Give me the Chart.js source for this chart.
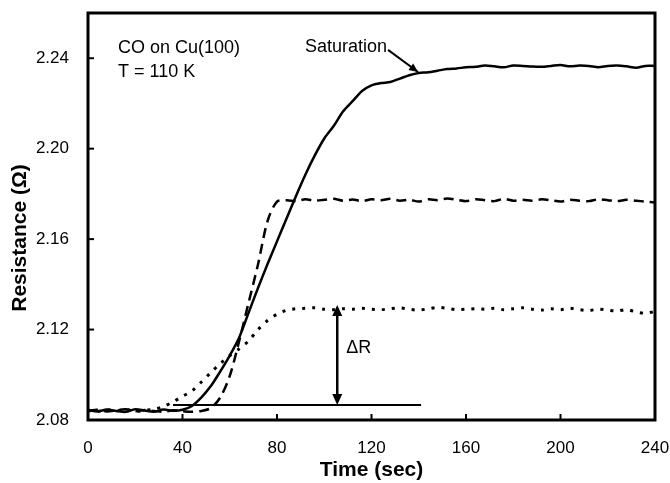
<!DOCTYPE html>
<html>
<head>
<meta charset="utf-8">
<script src="https://cdn.jsdelivr.net/npm/chart.js@4.4.1/dist/chart.umd.min.js"></script>
<style>
    body { margin: 0; background: #fff; }
    #wrap { width: 670px; height: 483px; }
</style>
</head>
<body>
<div id="wrap"><canvas id="resChart"></canvas></div>
<script>
// Time axis (sec)
const times = [0, 4, 8, 12, 16, 20, 24, 28, 32, 36, 40,
    44, 48, 52, 56, 60, 64, 68, 72, 76, 80,
    84, 88, 92, 96, 100, 104, 108, 112, 116, 120,
    124, 128, 132, 136, 140, 144, 148, 152, 156, 160,
    164, 168, 172, 176, 180, 184, 188, 192, 196, 200,
    204, 208, 212, 216, 220, 224, 228, 232, 236, 240];

// Saturation exposure (solid)
const saturation = [2.0845, 2.0838, 2.0846, 2.0840, 2.0836, 2.0848, 2.0842, 2.0837, 2.0846, 2.0841, 2.0845,
    2.0862, 2.0900, 2.0950, 2.1015, 2.1085, 2.1165, 2.1275, 2.1385, 2.1490, 2.1590,
    2.1690, 2.1790, 2.1885, 2.1970, 2.2045, 2.2100, 2.2165, 2.2210, 2.2255, 2.2280,
    2.2290, 2.2295, 2.2310, 2.2325, 2.2335, 2.2338, 2.2345, 2.2352, 2.2355, 2.2360,
    2.2362, 2.2368, 2.2364, 2.2360, 2.2368, 2.2366, 2.2363, 2.2362, 2.2366, 2.2370,
    2.2364, 2.2368, 2.2366, 2.2360, 2.2366, 2.2368, 2.2364, 2.2358, 2.2366, 2.2366];

// Intermediate exposure (dashed)
const partialHigh = [2.0840, 2.0845, 2.0838, 2.0843, 2.0847, 2.0839, 2.0844, 2.0840, 2.0836, 2.0843, 2.0839,
    2.0836, 2.0840, 2.0853, 2.0900, 2.0995, 2.1150, 2.1320, 2.1490, 2.1680, 2.1766,
    2.1772, 2.1768, 2.1776, 2.1770, 2.1774, 2.1778, 2.1770, 2.1775, 2.1768, 2.1776,
    2.1772, 2.1778, 2.1770, 2.1774, 2.1766, 2.1776, 2.1772, 2.1780, 2.1774, 2.1768,
    2.1776, 2.1772, 2.1768, 2.1778, 2.1770, 2.1774, 2.1770, 2.1776, 2.1772, 2.1766,
    2.1774, 2.1770, 2.1768, 2.1776, 2.1772, 2.1768, 2.1774, 2.1770, 2.1766, 2.1762];

// Low exposure (dotted)
const partialLow = [2.0842, 2.0838, 2.0845, 2.0840, 2.0846, 2.0838, 2.0843, 2.0848, 2.0860, 2.0880, 2.0905,
    2.0928, 2.0968, 2.1010, 2.1050, 2.1085, 2.1115, 2.1150, 2.1200, 2.1240, 2.1268,
    2.1285, 2.1292, 2.1294, 2.1296, 2.1290, 2.1288, 2.1292, 2.1290, 2.1294, 2.1290,
    2.1288, 2.1292, 2.1296, 2.1290, 2.1286, 2.1292, 2.1298, 2.1294, 2.1288, 2.1290,
    2.1292, 2.1290, 2.1294, 2.1288, 2.1292, 2.1296, 2.1290, 2.1286, 2.1292, 2.1288,
    2.1294, 2.1288, 2.1284, 2.1290, 2.1286, 2.1282, 2.1288, 2.1278, 2.1272, 2.1280];

// Baseline reference line and delta R marker
const baseTimes = [36, 141];
const baseValue = 2.0866;
const deltaTime = 105.5;
const deltaTop = 2.1309;

const xTicks = [0, 40, 80, 120, 160, 200, 240];
const yTicks = [2.08, 2.12, 2.16, 2.20, 2.24];

const FONT = '"Liberation Sans", Arial, sans-serif';

function toPoints(xs, ys) {
    return xs.map((x, i) => ({ x: x, y: ys[i] }));
}

function arrowHead(ctx, x1, y1, x2, y2, len, half) {
    const a = Math.atan2(y2 - y1, x2 - x1);
    ctx.beginPath();
    ctx.moveTo(x2, y2);
    ctx.lineTo(x2 - len * Math.cos(a) + half * Math.sin(a), y2 - len * Math.sin(a) - half * Math.cos(a));
    ctx.lineTo(x2 - len * Math.cos(a) - half * Math.sin(a), y2 - len * Math.sin(a) + half * Math.cos(a));
    ctx.closePath();
    ctx.fill();
}

function noScalePadding(scale) {
    scale.paddingTop = 0;
    scale.paddingBottom = 0;
    scale.paddingLeft = 0;
    scale.paddingRight = 0;
}

// Frame, inward ticks and annotations
const decorPlugin = {
    id: 'decor',
    afterDatasetsDraw(chart) {
        const ctx = chart.ctx;
        const xs = chart.scales.x;
        const ys = chart.scales.y;
        const left = xs.getPixelForValue(xs.min);
        const right = xs.getPixelForValue(xs.max);
        const top = ys.getPixelForValue(ys.max);
        const bottom = ys.getPixelForValue(ys.min);
        ctx.save();
        ctx.strokeStyle = '#000';
        ctx.fillStyle = '#000';

        // ticks
        ctx.lineWidth = 2;
        xTicks.forEach(t => {
            const px = xs.getPixelForValue(t);
            ctx.beginPath();
            ctx.moveTo(px, bottom);
            ctx.lineTo(px, bottom - 6);
            ctx.stroke();
        });
        yTicks.forEach(v => {
            const py = ys.getPixelForValue(v);
            ctx.beginPath();
            ctx.moveTo(left, py);
            ctx.lineTo(left + 6, py);
            ctx.stroke();
        });

        // frame
        ctx.lineWidth = 3;
        ctx.strokeRect(left, top, right - left, bottom - top);

        // delta R double arrow
        const ax = xs.getPixelForValue(deltaTime);
        const ay1 = ys.getPixelForValue(baseValue);
        const ay2 = ys.getPixelForValue(deltaTop);
        ctx.lineWidth = 2.5;
        ctx.beginPath();
        ctx.moveTo(ax, ay1 - 8);
        ctx.lineTo(ax, ay2 + 8);
        ctx.stroke();
        arrowHead(ctx, ax, ay2 + 20, ax, ay2, 11, 5);
        arrowHead(ctx, ax, ay1 - 20, ax, ay1, 11, 5);

        // saturation pointer
        const sx1 = xs.getPixelForValue(127);
        const sy1 = ys.getPixelForValue(2.2437);
        const sx2 = xs.getPixelForValue(139.7);
        const sy2 = ys.getPixelForValue(2.2339);
        ctx.lineWidth = 2;
        ctx.beginPath();
        ctx.moveTo(sx1, sy1);
        ctx.lineTo(sx2, sy2);
        ctx.stroke();
        arrowHead(ctx, sx1, sy1, sx2, sy2, 9, 4);

        // texts
        ctx.font = '18px ' + FONT;
        ctx.textBaseline = 'middle';
        ctx.textAlign = 'left';
        ctx.fillText('CO on Cu(100)', left + 30, top + 35);
        ctx.fillText('T = 110 K', left + 30, top + 59);
        ctx.fillText('Saturation', left + 217, top + 34);
        ctx.fillText('\u0394R', ax + 9, ys.getPixelForValue(2.1118));

        // y axis title
        ctx.font = 'bold 21px ' + FONT;
        ctx.textAlign = 'center';
        ctx.translate(20, 238);
        ctx.rotate(-Math.PI / 2);
        ctx.fillText('Resistance (\u03A9)', 0, 0);
        ctx.restore();
    }
};

document.addEventListener('DOMContentLoaded', function() {
    const ctx = document.getElementById('resChart');
    new Chart(ctx, {
        type: 'line',
        data: {
            datasets: [{
                data: toPoints(times, saturation),
                borderColor: '#000',
                borderWidth: 2.5,
                pointRadius: 0,
                tension: 0.3
            }, {
                data: toPoints(times, partialHigh),
                borderColor: '#000',
                borderWidth: 2.5,
                borderDash: [10, 6],
                pointRadius: 0,
                tension: 0.3
            }, {
                data: toPoints(times, partialLow),
                borderColor: '#000',
                borderWidth: 3,
                borderDash: [3, 7],
                pointRadius: 0,
                tension: 0.3
            }, {
                data: toPoints(baseTimes, [baseValue, baseValue]),
                borderColor: '#000',
                borderWidth: 2,
                pointRadius: 0
            }]
        },
        options: {
            responsive: true,
            maintainAspectRatio: false,
            animation: false,
            layout: {
                padding: { top: 13, right: 15, left: 0, bottom: 0 }
            },
            plugins: {
                legend: { display: false },
                tooltip: { enabled: false }
            },
            scales: {
                x: {
                    type: 'linear',
                    min: 0,
                    max: 240,
                    grid: { display: false },
                    border: { display: false },
                    afterBuildTicks: scale => {
                        scale.ticks = xTicks.map(v => ({ value: v }));
                    },
                    afterFit: scale => {
                        scale.height = 63;
                        noScalePadding(scale);
                    },
                    ticks: {
                        color: '#000',
                        padding: 10,
                        maxRotation: 0,
                        font: { family: FONT, size: 17 }
                    },
                    title: {
                        display: true,
                        text: 'Time (sec)',
                        color: '#000',
                        padding: 0,
                        font: { family: FONT, size: 21, weight: 'bold' }
                    }
                },
                y: {
                    type: 'linear',
                    min: 2.08,
                    max: 2.26,
                    grid: { display: false },
                    border: { display: false },
                    afterBuildTicks: scale => {
                        scale.ticks = yTicks.map(v => ({ value: v }));
                    },
                    afterFit: scale => {
                        scale.width = 88;
                        noScalePadding(scale);
                    },
                    ticks: {
                        color: '#000',
                        padding: 11,
                        callback: v => v.toFixed(2),
                        font: { family: FONT, size: 17 }
                    }
                }
            }
        },
        plugins: [decorPlugin]
    });
});
</script>
</body>
</html>
